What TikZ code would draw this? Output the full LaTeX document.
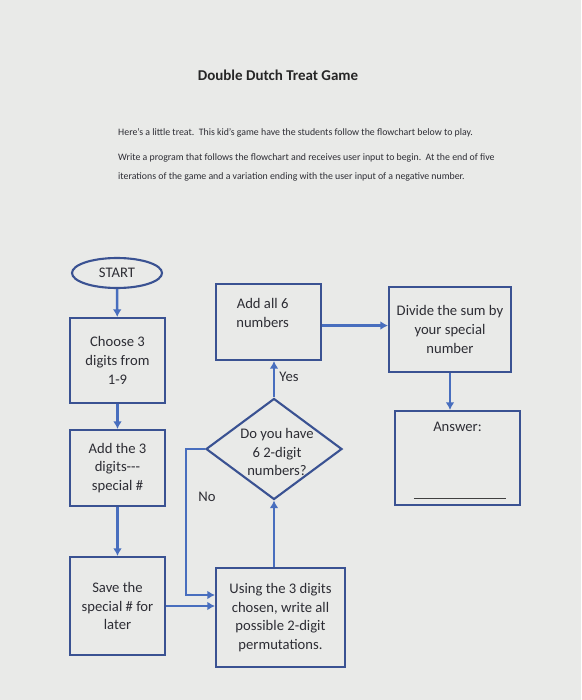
\documentclass[tikz,border=0pt]{standalone}
\usepackage{fontspec}
\setmainfont{Carlito}
\usetikzlibrary{arrows.meta,positioning,shapes.geometric,calc}
\definecolor{ddline}{RGB}{72,110,190}
\definecolor{ddbox}{RGB}{58,82,146}
\definecolor{ddtext}{RGB}{45,45,52}
\definecolor{ddpage}{RGB}{233,234,232}

\begin{document}
\begin{tikzpicture}[x=0.03cm,y=-0.03cm,
  fbox/.style={draw=ddbox,line width=1.8pt,minimum width=2.85cm,align=center,text=ddtext,font=\fontsize{12.5}{16}\selectfont},
  ftxt/.style={align=center,text=ddtext,font=\fontsize{12.5}{16}\selectfont,inner sep=0pt},
  body/.style={anchor=west,text=ddtext,font=\fontsize{8.4}{10}\selectfont,inner sep=0pt},
  arr/.style={-{Latex[length=6.5pt,width=7.5pt]},line width=2.2pt,ddline}]
  \fill[ddpage] (0,0) rectangle (581,700);
  \useasboundingbox (0,0) rectangle (581,700);
  % heading and task text
  \node[font=\fontsize{12.8}{15}\selectfont\bfseries,text=black!85] (title) at (278,75) {Double Dutch Treat Game};
  \node[body] (intro) at (118,133) {Here's a little treat.\ \ This kid's game have the students follow the flowchart below to play.};
  \node[body] (taska) at (118,158) {Write a program that follows the flowchart and receives user input to begin.\ \ At the end of five};
  \node[body] (taskb) at (118,177) {iterations of the game and a variation ending with the user input of a negative number.};
  % left column
  \node[ellipse,draw=ddbox,line width=1.8pt,minimum width=2.7cm,minimum height=0.9cm,inner sep=0pt,text=ddtext,font=\fontsize{12.5}{15}\selectfont] (start) at (117,273) {START};
  \node[fbox,minimum height=2.55cm] (choose) at (117.5,360.5) {Choose 3\\digits from\\1-9};
  \node[fbox,minimum height=2.28cm] (addthree) at (117.5,468) {Add the 3\\digits{-}{-}{-}\\special \#};
  \node[fbox,minimum height=2.94cm] (save) at (117.5,606) {Save the\\special \# for\\later};
  % middle column
  \node[fbox,minimum width=3.87cm,minimum height=2.97cm] (using) at (280.5,617.5) {Using the 3 digits\\chosen, write all\\possible 2-digit\\permutations.};
  \node[diamond,draw=ddbox,line width=1.8pt,minimum width=4.08cm,minimum height=3.03cm,inner sep=0pt] (dia) at (274,449) {};
  \node[ftxt] (diatxt) at (277,452) {Do you have\\6 2-digit\\numbers?};
  \node[fbox,minimum width=3.15cm,minimum height=2.28cm] (addsix) at (268.5,322) {};
  \node[ftxt,below=13pt of addsix.north,xshift=-5pt] (addsixtxt) {Add all 6\\numbers};
  % right column
  \node[fbox,minimum width=3.66cm,minimum height=2.55cm] (divide) at (450,329.5) {Divide the sum by\\your special\\number};
  \node[fbox,minimum width=3.75cm,minimum height=2.82cm] (answer) at (457.5,458) {};
  \node[ftxt,below=10pt of answer.north] (answertxt) {Answer:};
  \draw[line width=0.9pt,black!75] ($(answer.south west)+(20,-8)$) -- ($(answer.south east)+(-15,-8)$);
  % connectors
  \draw[arr] (start) -- (choose);
  \draw[arr] (choose) -- (addthree);
  \draw[arr] (addthree) -- (save);
  \draw[arr] (save.east) -- (save.east -| using.west);
  \draw[arr] (using.north -| dia.south) -- (dia.south);
  \coordinate (nobend) at (186,595);
  \draw[arr] (dia.west) -| (nobend) -- (nobend -| using.west);
  \draw[arr] (dia.north) -- (dia.north |- addsix.south);
  \draw[arr] ([yshift=-3pt]addsix.east) -- ([yshift=-3pt]addsix.east -| divide.west);
  \draw[arr] (divide.south) -- (divide.south |- answer.north);
  \node[ftxt] (yes) at (289,377) {Yes};
  \node[ftxt] (no) at (207,497) {No};
\end{tikzpicture}
\end{document}
